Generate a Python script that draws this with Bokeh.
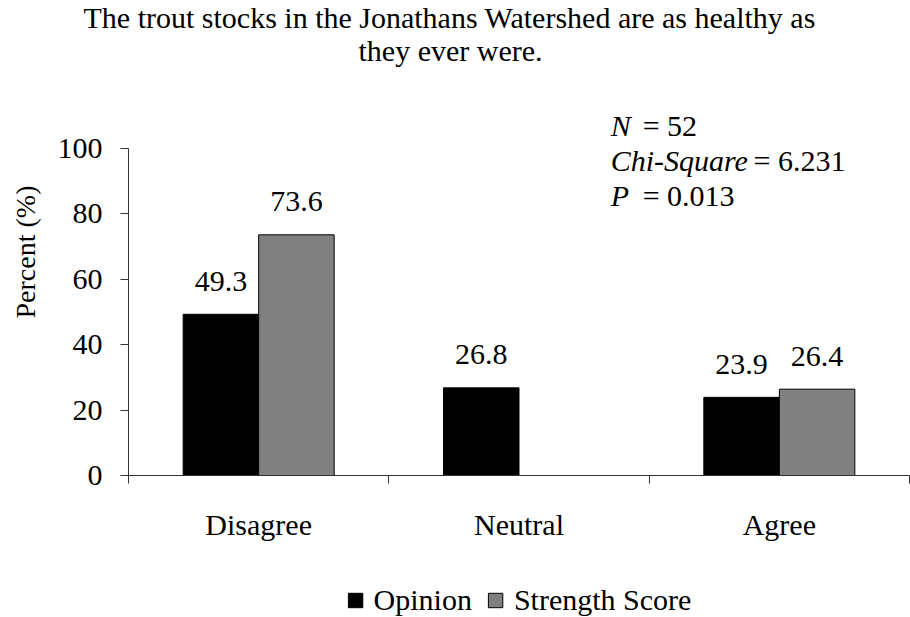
from bokeh.plotting import figure
from bokeh.layouts import column
from bokeh.models import Range1d, FixedTicker, Label, Legend, LegendItem, Title
from bokeh.core.properties import value
from bokeh.embed import file_html
from bokeh.resources import INLINE

categories = ["Disagree", "Neutral", "Agree"]
opinion = [49.3, 26.8, 23.9]
strength = [73.6, 0.0, 26.4]
opinion_labels = ["49.3", "26.8", "23.9"]
strength_labels = ["73.6", "", "26.4"]
y_ticks = [0, 20, 40, 60, 80, 100]
series_names = ["Opinion", "Strength Score"]
series_colors = ["#000000", "#808080"]
title_lines = ["The trout stocks in the Jonathans Watershed are as healthy as",
               "they ever were."]

F1 = "Liberation Serif"
FS = "serif"
centers = [i + 0.5 for i in range(len(categories))]
bounds = [i for i in range(len(categories) + 1)]
bw = 0.29

# ---- title strip ----
tf = figure(width=910, height=70, x_range=Range1d(0, 1), y_range=Range1d(0, 1),
            output_backend="svg", toolbar_location=None, min_border_left=128,
            min_border_right=1, min_border_top=0, min_border_bottom=0)
tf.axis.visible = False
tf.grid.visible = False
tf.outline_line_color = None
t2 = Title(text=title_lines[1], align="left", offset=230, text_font=F1,
           text_font_size="30px", text_font_style="normal", text_color="black",
           standoff=0)
t1 = Title(text=title_lines[0], align="left", offset=-45, text_font=F1,
           text_font_size="30px", text_font_style="normal", text_color="black",
           standoff=-4)
tf.add_layout(t2, "above")
tf.add_layout(t1, "above")

# ---- main chart ----
p = figure(width=910, height=513, x_range=Range1d(0, len(categories)),
           y_range=Range1d(0, 123.85), output_backend="svg", toolbar_location=None,
           min_border_left=128, min_border_right=1, min_border_top=0,
           min_border_bottom=108)
p.grid.visible = False
p.outline_line_color = None

r1 = p.vbar(x=[c - bw / 2 for c in centers], top=opinion, width=bw,
            fill_color=series_colors[0], line_color="black")
r2 = p.vbar(x=[c + bw / 2 for c in centers], top=strength, width=bw,
            fill_color=series_colors[1], line_color="black")

p.text(x=[c - bw / 2 for c in centers], y=opinion, text=opinion_labels,
       text_align="center", text_baseline="middle", y_offset=-33,
       text_font=value(FS), text_font_size="30px", text_color="black")
p.text(x=[c + bw / 2 for c in centers], y=strength, text=strength_labels,
       text_align="center", text_baseline="middle", y_offset=-33,
       text_font=value(FS), text_font_size="30px", text_color="black")

ya = p.yaxis[0]
ya.ticker = FixedTicker(ticks=y_ticks)
ya.bounds = (0, 100)
ya.major_tick_out = 8
ya.major_tick_in = 0
ya.minor_tick_out = 0
ya.minor_tick_in = 0
ya.major_label_text_font = F1
ya.major_label_text_font_size = "30px"
ya.major_label_text_color = "black"
ya.major_label_standoff = 18
ya.axis_label = "\u00a0" * 6 + "Percent (%)"
ya.axis_label_text_font = F1
ya.axis_label_text_font_size = "28px"
ya.axis_label_text_font_style = "normal"
ya.axis_label_text_color = "black"
ya.axis_label_standoff = 14
ya.axis_line_color = "#333333"
ya.major_tick_line_color = "#333333"

xa = p.xaxis[0]
xa.ticker = FixedTicker(ticks=centers, minor_ticks=bounds)
xa.major_tick_out = 0
xa.major_tick_in = 0
xa.minor_tick_out = 8
xa.minor_tick_in = 0
xa.major_label_overrides = {c: lab for c, lab in zip(centers, categories)}
xa.major_label_text_font = F1
xa.major_label_text_font_size = "30px"
xa.major_label_text_color = "black"
xa.major_label_standoff = 24
xa.axis_line_color = "#333333"
xa.minor_tick_line_color = "#333333"

def lab(x, y, t, font, style="normal"):
    p.add_layout(Label(x=x, y=y, text=t, text_font=font, text_font_size="30px",
                       text_font_style=style, text_baseline="middle",
                       text_color="black"))

lab(1.852, 107.0, "N", F1, "italic")
lab(1.975, 107.0, "= 52", FS)
lab(1.852, 96.3, "Chi-Square", F1, "italic")
lab(2.401, 96.3, "= 6.231", FS)
lab(1.852, 85.6, "P", F1, "italic")
lab(1.975, 85.6, "= 0.013", FS)

# ---- legend strip ----
lf = figure(width=910, height=34, x_range=Range1d(0, 1), y_range=Range1d(0, 1),
            output_backend="svg", toolbar_location=None, min_border_left=128,
            min_border_right=1, min_border_top=0, min_border_bottom=0)
lf.axis.visible = False
lf.grid.visible = False
lf.outline_line_color = None
g1 = lf.vbar(x=[0.5], bottom=[0], top=[0], width=0,
             fill_color=series_colors[0], line_color="black")
g2 = lf.vbar(x=[0.5], bottom=[0], top=[0], width=0,
             fill_color=series_colors[1], line_color="black")
legend = Legend(items=[LegendItem(label=series_names[0], renderers=[g1]),
                       LegendItem(label=series_names[1], renderers=[g2])],
                orientation="horizontal", location="center",
                label_text_font=FS, label_text_font_size="30px",
                label_text_color="black",
                glyph_width=18, glyph_height=18, spacing=14, label_standoff=10,
                padding=0, margin=0,
                border_line_color=None, background_fill_alpha=0)
lf.add_layout(legend)

open("out.html", "w").write(file_html(column(tf, p, lf, spacing=0), INLINE))
